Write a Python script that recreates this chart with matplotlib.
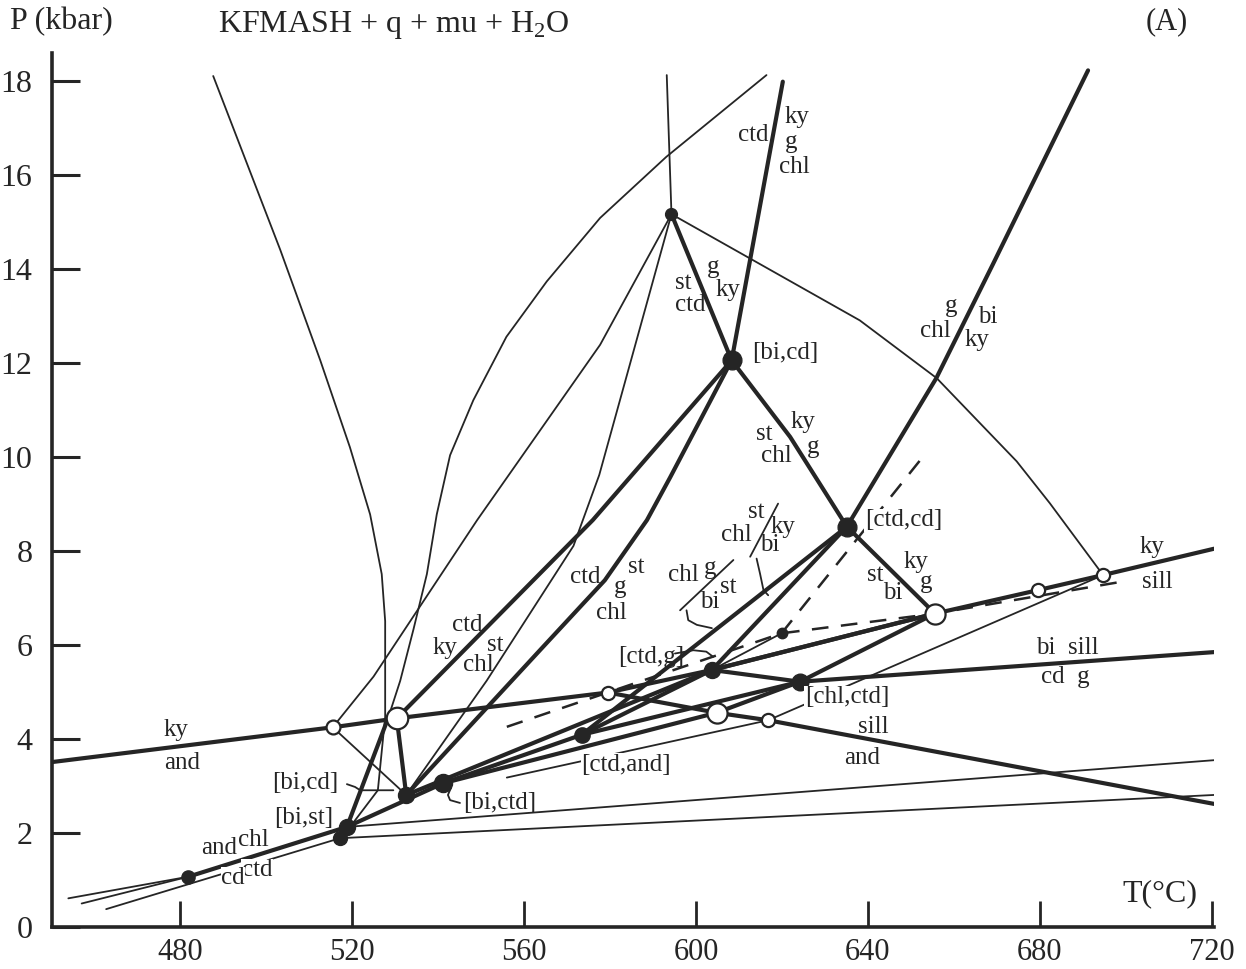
import matplotlib.pyplot as plt

plt.rcParams['font.family'] = ['Liberation Serif', 'DejaVu Serif']
plt.rcParams['mathtext.fontset'] = 'custom'
plt.rcParams['mathtext.rm'] = 'Liberation Serif'
plt.rcParams['lines.scale_dashes'] = False
plt.rcParams['lines.solid_capstyle'] = 'round'
plt.rcParams['lines.solid_joinstyle'] = 'round'

INK = '#252525'

# invariant points (T in C, P in kbar), filled dots
pt_top = [594.3, 15.17]
pt_bicd = [608.3, 12.06]
pt_ctdcd = [635.1, 8.52]
pt_ctdg = [603.7, 5.47]
pt_chlctd = [624.2, 5.22]
pt_d = [573.4, 4.09]
pt_meta = [619.9, 6.25]
pt_bictd = [541.2, 3.06]
pt_bicd_lo = [532.6, 2.81]
pt_bist = [518.8, 2.13]
pt_low = [517.2, 1.89]
pt_and = [481.9, 1.07]

# crossings with the Al2SiO5 reactions, open circles
op_ky1 = [515.5, 4.25]
op_ky2 = [530.4, 4.44]
op_tp = [579.5, 4.99]
op_sa1 = [604.8, 4.56]
op_sa2 = [616.8, 4.40]
op_ks1 = [655.6, 6.67]
op_ks2 = [679.6, 7.17]
op_ks3 = [694.7, 7.49]

thick_lines = [
    [[450.2, 3.51], op_ky1, op_ky2, op_tp],                      # ky = and
    [op_tp, pt_ctdg, op_ks1, op_ks2, op_ks3, [720.5, 8.05]],     # ky = sill
    [op_tp, op_sa1, op_sa2, [720.5, 2.62]],                      # sill = and
    [pt_ctdg, pt_chlctd, [720.5, 5.85]],                         # bi sill / cd g
    [pt_chlctd, op_ks1],
    [pt_ctdg, op_ks1],
    [pt_ctdcd, op_ks1],
    [pt_ctdcd, [655.9, 11.68], [669.1, 14.11], [691.2, 18.23]],  # g chl / bi ky
    [pt_bicd, [621.9, 10.43], pt_ctdcd],
    [pt_top, pt_bicd],
    [pt_bicd, [620.2, 17.99]],
    [pt_bicd, [576.0, 8.66], op_ky2],
    [op_ky2, pt_bicd_lo],
    [pt_bicd, [594.0, 9.57], [588.6, 8.66], [578.8, 7.38], [563.7, 5.89], pt_bicd_lo],
    [pt_and, pt_bist],
    [pt_bist, pt_bictd, pt_d, pt_ctdg],
    [pt_bicd_lo, pt_ctdg],
    [pt_bictd, op_sa1, pt_chlctd],
    [pt_d, pt_chlctd],
    [pt_d, pt_ctdcd],
    [pt_ctdg, pt_ctdcd],
    [[528.4, 4.45], pt_bist],
]

long_curve = [[616.4, 18.13], [593.1, 16.39], [577.7, 15.09], [565.3, 13.74],
              [555.9, 12.56], [548.2, 11.21], [542.8, 10.04], [539.7, 8.78],
              [537.4, 7.51], [534.3, 6.34], [531.2, 5.24], [528.4, 4.45]]
chl_curve = [[487.7, 18.11], [503.3, 14.41], [512.6, 12.06], [519.5, 10.21],
             [524.2, 8.78], [526.9, 7.51], [527.7, 6.51], [527.7, 5.24],
             [527.7, 4.47], [526.0, 2.91], [520.2, 2.21], pt_low]

thin_lines = [
    long_curve,
    chl_curve,
    [pt_top, [593.2, 18.13]],
    [pt_top, [638.1, 12.91], [656.0, 11.68], [674.6, 9.91], [682.3, 9.02], op_ks3],
    [pt_top, [577.5, 9.62], [571.5, 8.11], [551.3, 5.24], pt_bicd_lo],
    [pt_top, [577.7, 12.39], [549.1, 8.66], [525.0, 5.33], op_ky1],
    [op_ky1, pt_bicd_lo],
    [pt_bist, [720.5, 3.55]],
    [pt_low, [720.5, 2.81]],
    [[454.0, 0.61], pt_and],
    [[457.1, 0.50], pt_and],
    [[462.8, 0.38], pt_low],
    [[556.0, 3.18], op_sa2],
    [op_sa2, op_ks3],
    [pt_ctdg, pt_meta],
    [[596.3, 6.74], [608.7, 7.81]],
    [[612.6, 7.88], [619.1, 9.01]],
    [[597.8, 6.74], [598.2, 6.53], [600.2, 6.43], [603.7, 6.36]],
    [[614.1, 7.84], [614.9, 7.52], [615.7, 7.17], [616.8, 7.06]],
    [[518.8, 3.04], [520.7, 2.98], [521.9, 2.91], [529.6, 2.91]],
    [[545.1, 2.64], [542.8, 2.70], [542.3, 2.81], [543.0, 2.96]],
    [[595.1, 5.82], [599.4, 5.89], [602.4, 5.86], [604.0, 5.75]],
]

dashed_lines = [
    [[556.0, 4.26], pt_meta, op_ks1, [699.8, 7.36]],
    [pt_meta, [652.9, 10.02]],
]

filled_pts = [pt_top, pt_bicd, pt_ctdcd, pt_ctdg, pt_chlctd, pt_d, pt_meta,
              pt_bictd, pt_bicd_lo, pt_bist, pt_low, pt_and]
filled_size = [8.5, 13.5, 13.5, 11.5, 12, 11, 7.5, 13, 11.5, 11.5, 10, 9.5]
open_pts = [op_ky1, op_ky2, op_tp, op_sa1, op_sa2, op_ks1, op_ks2, op_ks3]
open_size = [10, 15.5, 9.5, 14.5, 9.5, 14.5, 9.5, 9.5]

labels = [
    ('ky', 479.1, 4.19), ('and', 480.5, 3.49),
    ('and', 489.1, 1.68), ('chl', 497.0, 1.85),
    ('ctd', 546.7, 6.43), ('ky', 541.6, 5.94), ('st', 553.3, 6.00), ('chl', 549.4, 5.57),
    ('ctd', 574.2, 7.45), ('g', 582.3, 7.23), ('st', 586.2, 7.66), ('chl', 580.4, 6.68),
    ('chl', 597.1, 7.49), ('g', 603.3, 7.64), ('st', 607.5, 7.23), ('bi', 603.3, 6.91),
    ('st', 614.1, 8.83), ('chl', 609.5, 8.34), ('ky', 620.3, 8.51), ('bi', 617.2, 8.13),
    ('sill', 641.2, 4.26), ('and', 638.6, 3.60),
    ('st', 641.6, 7.49), ('bi', 645.8, 7.11), ('ky', 651.3, 7.77), ('g', 653.6, 7.34),
    ('bi  sill', 686.5, 5.94), ('cd  g', 686.0, 5.32),
    ('ky', 706.0, 8.09), ('sill', 707.4, 7.34),
    ('[bi,cd]', 620.7, 12.21),
    ('st', 597.1, 13.70), ('ctd', 598.6, 13.23), ('g', 604.0, 14.04), ('ky', 607.5, 13.55),
    ('ctd', 613.3, 16.85), ('ky', 623.4, 17.23), ('g', 622.2, 16.70), ('chl', 623.0, 16.17),
    ('st', 615.9, 10.50), ('chl', 618.8, 10.02), ('ky', 624.9, 10.74), ('g', 627.3, 10.21),
    ('g', 659.4, 13.21), ('chl', 655.6, 12.68), ('bi', 667.9, 12.98), ('ky', 665.3, 12.49),
    ('[bi,cd]', 509.1, 3.06), ('[bi,st]', 508.8, 2.32), ('[bi,ctd]', 554.4, 2.64),
    ('[ctd,g]', 589.5, 5.74),
]
boxed_labels = [
    ('ctd', 497.9, 1.21), ('cd', 492.3, 1.04),
    ('[ctd,and]', 583.7, 3.45), ('[chl,ctd]', 635.1, 4.89), ('[ctd,cd]', 648.3, 8.66),
]

fig = plt.figure(figsize=(12.46, 9.69), dpi=100)
ax = fig.add_axes([52 / 1246, 42 / 969, 1162 / 1246, 874 / 969])


def draw(pts, **kw):
    ax.plot([p[0] for p in pts], [p[1] for p in pts], color=INK, **kw)


for pts in thin_lines:
    draw(pts, lw=1.3, zorder=2)
for pts in thick_lines:
    draw(pts, lw=3.0, zorder=3)
for pts in dashed_lines:
    draw(pts, lw=1.8, dashes=(12, 9), zorder=2)

for p, s in zip(filled_pts, filled_size):
    ax.plot(p[0], p[1], 'o', ms=s, color=INK, zorder=5)
for p, s in zip(open_pts, open_size):
    ax.plot(p[0], p[1], 'o', ms=s, mfc='white', mec=INK, mew=1.6, zorder=5)

for txt, t, p in labels:
    ax.text(t, p, txt, fontsize=18, ha='center', va='center', color=INK, zorder=6)
for i, (txt, t, p) in enumerate(boxed_labels):
    ax.text(t, p, txt, fontsize=18, ha='center', va='center', color=INK, zorder=6 + 0.01 * i,
            bbox=dict(boxstyle='square,pad=0.02', fc='white', ec='none'))

ax.text(707.9, 0.70, 'T(°C)', fontsize=23, ha='center', va='center', color=INK)

ax.set_xlim(450.2, 720.5)
ax.set_ylim(0, 18.6)
ax.set_xticks([480, 520, 560, 600, 640, 680, 720])
ax.set_yticks([0, 2, 4, 6, 8, 10, 12, 14, 16, 18])
for side in ['top', 'right']:
    ax.spines[side].set_visible(False)
for side in ['left', 'bottom']:
    ax.spines[side].set_linewidth(2.6)
    ax.spines[side].set_color(INK)
ax.tick_params(axis='y', direction='in', length=20, width=2.2, labelsize=23, pad=14,
               colors=INK)
ax.tick_params(axis='x', direction='in', length=19, width=2.0, labelsize=22, pad=8,
               colors=INK)

fig.text(10 / 1246, 1 - 22 / 969, 'P (kbar)', ha='left', va='center', fontsize=23,
         color=INK)
fig.text(218 / 1246, 1 - 25 / 969, 'KFMASH + q + mu + H$_2$O', ha='left', va='center',
         fontsize=23, color=INK)
fig.text(1167 / 1246, 1 - 22 / 969, '(A)', ha='center', va='center', fontsize=22,
         color=INK)

fig.savefig('out.png', dpi=100, facecolor='white')
